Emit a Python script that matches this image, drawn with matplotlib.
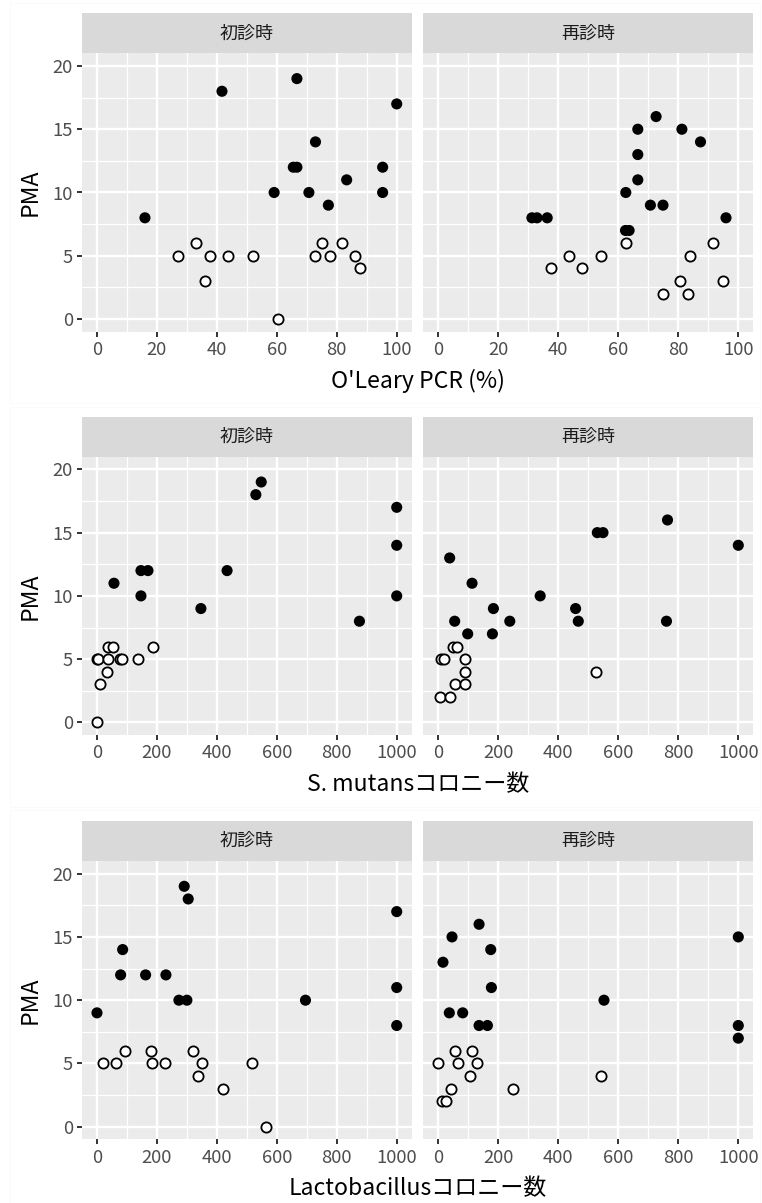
import matplotlib
matplotlib.use("Agg")
import matplotlib.pyplot as plt
from matplotlib.patches import Rectangle

plt.rcParams['font.family'] = ['Noto Sans CJK JP', 'DejaVu Sans']

# facet labels
facets = ['初診時', '再診時']
xlabels = ["O'Leary PCR (%)", 'S. mutansコロニー数', 'Lactobacillusコロニー数']

# row 1: O'Leary PCR
pcr_first_filled_x = [16, 41.7, 66.7, 100, 72.9, 65.5, 66.7, 95.3, 83.3, 59.1, 70.7, 95.3, 77.2]
pcr_first_filled_y = [8, 18, 19, 17, 14, 12, 12, 12, 11, 10, 10, 10, 9]
pcr_first_open_x = [26.9, 33.2, 37.6, 36.2, 43.8, 52, 60.4, 72.9, 75.1, 77.6, 81.9, 86.2, 87.6]
pcr_first_open_y = [5, 6, 5, 3, 5, 5, 0, 5, 6, 5, 6, 5, 4]
pcr_re_filled_x = [31.2, 32.9, 36.3, 95.9, 62.5, 62.4, 63.6, 66.5, 66.5, 66.5, 72.6, 81.2, 87.4, 70.7, 74.9]
pcr_re_filled_y = [8, 8, 8, 8, 10, 7, 7, 11, 13, 15, 16, 15, 14, 9, 9]
pcr_re_open_x = [37.4, 43.5, 47.8, 54.3, 62.5, 74.9, 80.5, 83.3, 84.0, 91.6, 94.8]
pcr_re_open_y = [4, 5, 4, 5, 6, 2, 3, 2, 5, 6, 3]

# row 2: S. mutans
sm_first_filled_x = [56.7, 146.7, 170, 146.7, 346.7, 434, 530, 548, 1000, 1000, 1000, 875.6]
sm_first_filled_y = [11, 12, 12, 10, 9, 12, 18, 19, 17, 14, 10, 8]
sm_first_open_x = [0, 3, 36.7, 35.6, 54.4, 77.8, 84.4, 135.6, 187.8, 34.4, 10, 0]
sm_first_open_y = [5, 5, 5, 6, 6, 5, 5, 5, 6, 4, 3, 0]
sm_re_filled_x = [37.9, 112.5, 183.7, 54.6, 98, 180.4, 238.3, 339.6, 457.7, 466.6, 530, 549, 764, 760.6, 1000]
sm_re_filled_y = [13, 11, 9, 8, 7, 7, 8, 10, 9, 8, 15, 15, 16, 8, 14]
sm_re_open_x = [5.6, 40, 7.8, 17.8, 47.9, 62.4, 90.2, 90.2, 55.7, 90.2, 526.7]
sm_re_open_y = [2, 2, 5, 5, 6, 6, 5, 4, 3, 3, 4]

# row 3: Lactobacillus
lb_first_filled_x = [0, 85.6, 78.9, 162.2, 230, 273.3, 300, 291, 304.4, 695.6, 1000, 1000, 1000]
lb_first_filled_y = [9, 14, 12, 12, 12, 10, 10, 19, 18, 10, 17, 11, 8]
lb_first_open_x = [21.1, 62.2, 94.4, 178.9, 183.3, 225.6, 318.9, 350, 335.6, 421, 515.6, 564.4]
lb_first_open_y = [5, 5, 6, 6, 5, 5, 6, 5, 4, 3, 5, 0]
lb_re_filled_x = [135.9, 45.7, 174.8, 15.6, 177, 552.3, 36.7, 81.3, 135.9, 163.7, 1000, 1000, 1000]
lb_re_filled_y = [16, 15, 14, 13, 11, 10, 9, 9, 8, 8, 15, 8, 7]
lb_re_open_x = [0, 66.8, 129.2, 56.8, 113.6, 104.7, 41.2, 249.4, 543.4, 13.4, 25.6]
lb_re_open_y = [5, 5, 5, 6, 6, 4, 3, 3, 4, 2, 2]

rows = [
    [(pcr_first_filled_x, pcr_first_filled_y, pcr_first_open_x, pcr_first_open_y),
     (pcr_re_filled_x, pcr_re_filled_y, pcr_re_open_x, pcr_re_open_y)],
    [(sm_first_filled_x, sm_first_filled_y, sm_first_open_x, sm_first_open_y),
     (sm_re_filled_x, sm_re_filled_y, sm_re_open_x, sm_re_open_y)],
    [(lb_first_filled_x, lb_first_filled_y, lb_first_open_x, lb_first_open_y),
     (lb_re_filled_x, lb_re_filled_y, lb_re_open_x, lb_re_open_y)],
]
xmax = [100, 1000, 1000]
xmajor = [[0, 20, 40, 60, 80, 100], [0, 200, 400, 600, 800, 1000], [0, 200, 400, 600, 800, 1000]]
ymajor = [0, 5, 10, 15, 20]

W, H = 762, 1203
fig = plt.figure(figsize=(W / 100, H / 100), dpi=100)

panel_x = [(82, 411.7), (423.3, 753.3)]
panel_top = [53.3, 456.7, 861.0]
panel_h = 278.4
strip_h = 40

def fa(x0, y0, x1, y1):
    return [x0 / W, 1 - y1 / H, (x1 - x0) / W, (y1 - y0) / H]

for r in range(3):
    # faint frame of each stacked sub-image
    top = 3 + r * 403.7
    fig.patches.append(Rectangle((10 / W, 1 - (top + 400) / H), 750 / W, 400 / H,
                                 transform=fig.transFigure, fill=False,
                                 edgecolor='#FAFAFA', lw=0.6))
    xm = xmax[r]
    pad = xm * 0.05
    minor = [(a + b) / 2 for a, b in zip(xmajor[r][:-1], xmajor[r][1:])]
    for c in range(2):
        x0, x1 = panel_x[c]
        y0 = panel_top[r]
        ax = fig.add_axes(fa(x0, y0, x1, y0 + panel_h))
        ax.set_facecolor('#EBEBEB')
        for s in ax.spines.values():
            s.set_visible(False)
        ax.set_xlim(-pad, xm + pad)
        ax.set_ylim(-1, 21)
        for v in minor:
            ax.axvline(v, color='white', lw=0.9, zorder=0)
        for v in [2.5, 7.5, 12.5, 17.5]:
            ax.axhline(v, color='white', lw=0.9, zorder=0)
        for v in xmajor[r]:
            ax.axvline(v, color='white', lw=1.7, zorder=0)
        for v in ymajor:
            ax.axhline(v, color='white', lw=1.7, zorder=0)
        fx, fy, ox, oy = rows[r][c]
        ax.scatter(fx, fy, s=64, c='black', edgecolors='none', zorder=3)
        ax.scatter(ox, oy, s=54, facecolors='white', edgecolors='black', linewidths=1.3, zorder=3)
        ax.set_xticks(xmajor[r])
        ax.set_yticks(ymajor)
        ax.tick_params(length=3.6, width=1.4, color='#333333', labelcolor='#4D4D4D',
                       labelsize=13.3, pad=3)
        if c == 1:
            ax.set_yticklabels([])
            ax.tick_params(axis='y', length=0)
        # strip
        sa = fig.add_axes(fa(x0, y0 - strip_h, x1, y0))
        sa.set_facecolor('#D9D9D9')
        sa.set_xticks([])
        sa.set_yticks([])
        for s in sa.spines.values():
            s.set_visible(False)
        sa.text(0.5, 0.5, facets[c], ha='center', va='center', fontsize=13,
                color='#1A1A1A', transform=sa.transAxes)
    # axis titles
    fig.text((82 + 753.3) / 2 / W, 1 - (panel_top[r] + panel_h + 49) / H, xlabels[r],
             ha='center', va='center', fontsize=16.6)
    fig.text(30 / W, 1 - (panel_top[r] + panel_h / 2) / H, 'PMA', rotation=90,
             ha='center', va='center', fontsize=16.6)

fig.savefig('out.png', dpi=100)
